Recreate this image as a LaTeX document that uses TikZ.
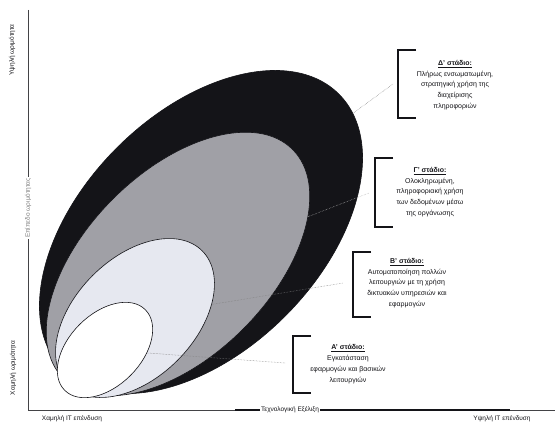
\documentclass[tikz,border=0pt]{standalone}
\usepackage{fontspec}
\setmainfont{Liberation Sans}
\usetikzlibrary{shapes.geometric}
\definecolor{midgray}{RGB}{160,160,166}
\definecolor{palegray}{RGB}{230,232,240}
\definecolor{ink}{RGB}{20,20,24}

\begin{document}
\begin{tikzpicture}[x=1pt,y=-1pt,
  el/.style={ellipse,draw=ink,line width=0.6pt,inner sep=0pt,rotate=45},
  br/.style={line width=1.5pt,color=ink},
  lbl/.style={align=center,text=ink,font=\fontsize{7}{10.8}\selectfont},
  ld/.style={densely dotted,gray,line width=0.5pt},
  ax/.style={text=ink,inner sep=1pt,font=\fontsize{6.5}{7}\selectfont},
  axl/.style={line width=0.6pt,color=ink!80}]
  \useasboundingbox (0,0) rectangle (557,425);
  % axes
  \coordinate (ytop) at (28,10);
  \coordinate (o) at (28,410);
  \coordinate (xend) at (555,410);
  \draw[axl] (ytop) -- (o) -- (xend);
  \draw[line width=1.1pt,ink] (235,410) -- (510,410);
  \node[ax,fill=white] (xmid) at (290,410) {Τεχνολογική Εξέλιξη};
  \node[ax,fill=white,rotate=90,text=gray] (ymid) at (28,208) {Επίπεδο ωριμότητας};
  \node[ax,rotate=90] (yhi) at (12,50) {Υψηλή ωριμότητα};
  \node[ax,rotate=90] (ylo) at (13,368) {Χαμηλή ωριμότητα};
  \node[ax] (xlo) at (72,419) {Χαμηλή IT επένδυση};
  \node[ax] (xhi) at (502,419) {Υψηλή IT επένδυση};
  % stages
  \node[el,fill=ink,minimum width=390pt,minimum height=238pt] (dst) at (201,232) {};
  \node[el,fill=midgray,minimum width=324pt,minimum height=184pt] (cst) at (178,264) {};
  \node[el,fill=palegray,minimum width=190pt,minimum height=120pt] (bst) at (135,318) {};
  \node[el,fill=white,minimum width=114pt,minimum height=72pt] (ast) at (105,350) {};
  % brackets
  \draw[br] (416,50) -- (398,50) -- (398,118) -- (416,118);
  \draw[br] (393,158) -- (375,158) -- (375,227) -- (393,227);
  \draw[br] (371,252) -- (353,252) -- (353,317) -- (371,317);
  \draw[br] (311,336) -- (293,336) -- (293,393) -- (311,393);
  \coordinate (dpt) at (393,84);
  \coordinate (cpt) at (369,193);
  \coordinate (bpt) at (343,283);
  \coordinate (apt) at (285,363);
  \node[lbl] (dtxt) at (455,85) {\underline{\textbf{Δ' στάδιο:}}\\Πλήρως ενσωματωμένη,\\στρατηγική χρήση της\\διαχείρισης\\πληροφοριών};
  \node[lbl] (ctxt) at (430,192) {\underline{\textbf{Γ' στάδιο:}}\\Ολοκληρωμένη,\\πληροφοριακή χρήση\\των δεδομένων μέσω\\της οργάνωσης};
  \node[lbl] (btxt) at (407,283) {\underline{\textbf{Β' στάδιο:}}\\Αυτοματοποίηση πολλών\\λειτουργιών με τη χρήση\\δικτυακών υπηρεσιών και\\εφαρμογών};
  \node[lbl] (atxt) at (348,364) {\underline{\textbf{Α' στάδιο:}}\\Εγκατάσταση\\εφαρμογών και βασικών\\λειτουργιών};
  % leaders
  \draw[ld] (dst.-7) -- (dpt);
  \draw[ld,gray!60] (cst.-25) -- (cpt);
  \draw[ld] (bst.-35) -- (bpt);
  \draw[ld] (ast.-49) -- (apt);
\end{tikzpicture}
\end{document}
